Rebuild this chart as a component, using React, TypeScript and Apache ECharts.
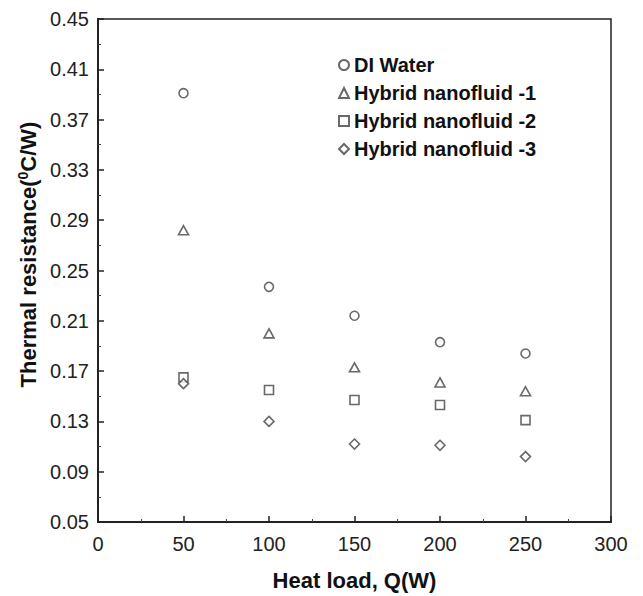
import React, { useEffect, useRef } from "react";
import * as echarts from "echarts";

const heatLoad = [50, 100, 150, 200, 250];
const diWater = [0.391, 0.237, 0.214, 0.193, 0.184];
const hybrid1 = [0.282, 0.2, 0.173, 0.161, 0.154];
const hybrid2 = [0.165, 0.155, 0.147, 0.143, 0.131];
const hybrid3 = [0.16, 0.13, 0.112, 0.111, 0.102];
const seriesNames = ["DI Water", "Hybrid nanofluid -1", "Hybrid nanofluid -2", "Hybrid nanofluid -3"];
const seriesSymbols = ["circle", "triangle", "rect", "diamond"];
const yMin = 0.05;
const yMax = 0.45;
const yStep = 0.04;

export default function App() {
  const ref = useRef<HTMLDivElement>(null);
  useEffect(() => {
    if (!ref.current) return;
    const chart = echarts.init(ref.current, null, { renderer: "svg" });
    const all = [diWater, hybrid1, hybrid2, hybrid3];
    const sizes = [9, [10, 9], 9, [10, 10]];
    const font = "'Liberation Sans', Arial, sans-serif";
    chart.setOption({
      animation: false,
      backgroundColor: "#fff",
      textStyle: { fontFamily: font },
      grid: {
        left: 98,
        right: 32,
        top: 19,
        bottom: 71,
        show: true,
        borderColor: "#222",
        borderWidth: 1.5,
        containLabel: false,
      },
      legend: {
        orient: "vertical",
        left: 333,
        top: 50,
        itemWidth: 10,
        itemHeight: 10,
        itemGap: 8,
        itemTextGap: 15,
        data: seriesNames,
        textStyle: { fontSize: 20, fontWeight: "bold", color: "#111", fontFamily: font, lineHeight: 20 },
      },
      xAxis: {
        type: "value",
        min: 0,
        max: 300,
        interval: 50,
        name: "Heat load, Q(W)",
        nameLocation: "middle",
        nameGap: 47,
        nameTextStyle: { fontSize: 22, fontWeight: "bold", color: "#111", fontFamily: font },
        axisLine: { show: true, lineStyle: { color: "#222", width: 2 } },
        axisTick: { show: true, inside: true, length: 6, lineStyle: { color: "#222", width: 1.5 } },
        minorTick: { show: true, splitNumber: 2, length: 3, lineStyle: { color: "#444", width: 1 } },
        axisLabel: { fontSize: 20, color: "#222", margin: 12, fontFamily: font },
        splitLine: { show: false },
      },
      yAxis: {
        type: "value",
        min: 0,
        max: yMax - yMin,
        interval: yStep,
        name: "{a|Thermal resistance(}{s|0}{a|C/W)}",
        nameLocation: "middle",
        nameGap: 55,
        nameRotate: 90,
        nameTextStyle: {
          padding: [0, 0, 0, 32],
          rich: {
            a: { fontSize: 22, fontWeight: "bold", color: "#111", fontFamily: font },
            s: { fontSize: 14, fontWeight: "bold", color: "#111", fontFamily: font, verticalAlign: "top", padding: [0, 0, 10, 0] },
          },
        },
        axisLine: { show: true, lineStyle: { color: "#222", width: 2 } },
        axisTick: { show: true, inside: true, length: 6, lineStyle: { color: "#222", width: 1.5 } },
        minorTick: { show: true, splitNumber: 2, length: 3, lineStyle: { color: "#444", width: 1 } },
        axisLabel: {
          fontSize: 20,
          color: "#222",
          margin: 9,
          fontFamily: font,
          formatter: (v: number) => (v + yMin).toFixed(2),
        },
        splitLine: { show: false },
      },
      series: all.map((vals, i) => ({
        name: seriesNames[i],
        type: "scatter",
        symbol: seriesSymbols[i],
        symbolSize: sizes[i],
        itemStyle: { color: "#fff", borderColor: "#444", borderWidth: 1.6 },
        data: heatLoad.map((x, j) => [x, +(vals[j] - yMin).toFixed(4)]),
      })),
    });
    return () => chart.dispose();
  }, []);
  return <div ref={ref} style={{ position: "fixed", left: 0, top: 0, width: 643, height: 596 }} />;
}
